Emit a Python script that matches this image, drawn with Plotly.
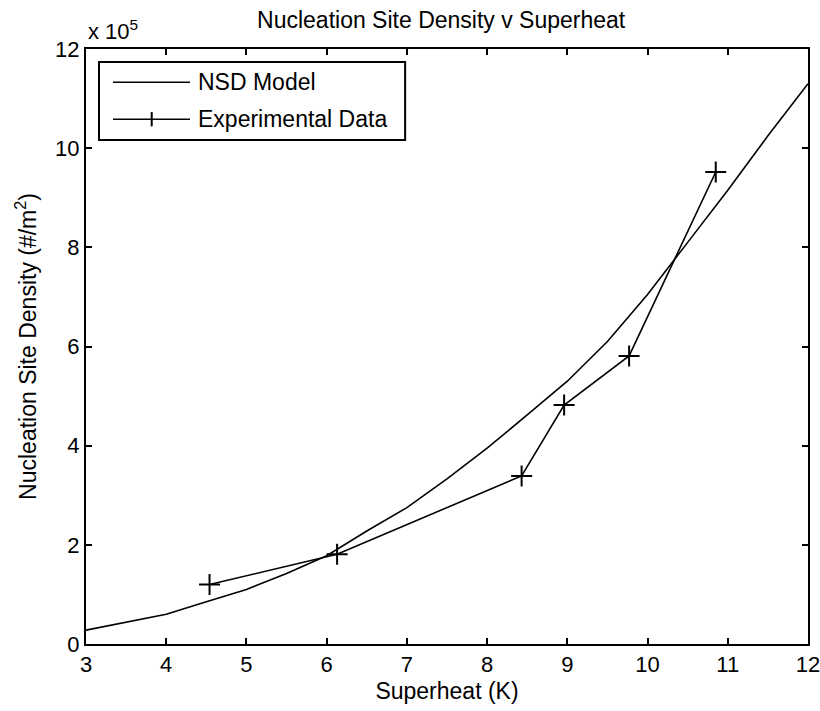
import plotly.graph_objects as go

# NSD model curve (Superheat K, Nucleation site density #/m^2)
model_x = [3.0, 3.5, 4.0, 4.5, 5.0, 5.5, 6.0, 6.5, 7.0, 7.5, 8.0, 8.5, 9.0, 9.5, 10.0, 10.5, 11.0, 11.5, 12.0]
model_y = [0.28e5, 0.44e5, 0.60e5, 0.85e5, 1.10e5, 1.42e5, 1.78e5, 2.28e5, 2.75e5, 3.33e5, 3.95e5, 4.62e5,
           5.30e5, 6.10e5, 7.05e5, 8.10e5, 9.15e5, 10.25e5, 11.30e5]

# Experimental data
exp_x = [4.54, 6.13, 8.43, 8.96, 9.77, 10.85]
exp_y = [1.20e5, 1.81e5, 3.39e5, 4.82e5, 5.81e5, 9.52e5]

series_names = ["NSD Model", "Experimental Data"]

x_ticks = [3, 4, 5, 6, 7, 8, 9, 10, 11, 12]
y_tick_vals = [0, 2e5, 4e5, 6e5, 8e5, 10e5, 12e5]
y_tick_text = ["0", "2", "4", "6", "8", "10", "12"]

FONT = "Liberation Sans, Arial, sans-serif"
TXT = 23

fig = go.Figure()
fig.add_trace(go.Scatter(x=model_x, y=model_y, mode="lines", name=series_names[0],
                         line=dict(color="black", width=1.6), showlegend=False))
fig.add_trace(go.Scatter(x=exp_x, y=exp_y, mode="lines+markers", name=series_names[1],
                         line=dict(color="black", width=1.6), showlegend=False,
                         marker=dict(symbol="cross-thin", size=15, line=dict(color="black", width=2))))

axis_common = dict(showgrid=False, zeroline=False, showline=True, linecolor="black", linewidth=2,
                   mirror="ticks", ticks="inside", ticklen=6, tickwidth=1.5, tickcolor="black",
                   automargin=False, ticklabeloverflow="allow",
                   tickfont=dict(family=FONT, size=22, color="black"))

fig.update_layout(
    width=820, height=711,
    margin=dict(l=86, r=12, t=49, b=67),
    paper_bgcolor="white", plot_bgcolor="white",
    font=dict(family=FONT, color="black"),
    title=dict(text="Nucleation Site Density v Superheat", x=0.538, xanchor="center",
               y=0.972, yanchor="middle", font=dict(family=FONT, size=TXT, color="black")),
    xaxis=dict(range=[3, 12], tickvals=x_ticks,
               title=dict(text="Superheat (K)", font=dict(family=FONT, size=TXT), standoff=6),
               **axis_common),
    yaxis=dict(range=[0, 12e5], tickvals=y_tick_vals, ticktext=y_tick_text,
               title=dict(text="Nucleation Site Density (#/m<sup>2</sup>)", font=dict(family=FONT, size=TXT),
                          standoff=12),
               **axis_common),
    showlegend=False,
)

# Custom MATLAB-style legend box (layout decoration, paper coordinates)
lx0, lx1, ly0, ly1 = 0.018, 0.442, 0.847, 0.978
fig.add_shape(type="rect", xref="paper", yref="paper", x0=lx0, x1=lx1, y0=ly0, y1=ly1,
              line=dict(color="black", width=2), fillcolor="white", layer="above")
row_y = [0.944, 0.882]
for i, name in enumerate(series_names):
    fig.add_shape(type="line", xref="paper", yref="paper", x0=0.0374, x1=0.144, y0=row_y[i], y1=row_y[i],
                  line=dict(color="black", width=1.6), layer="above")
    fig.add_annotation(text=name, xref="paper", yref="paper", x=0.152, y=row_y[i],
                       xanchor="left", yanchor="middle", showarrow=False,
                       font=dict(family=FONT, size=TXT, color="black"))
# cross marker in legend sample for experimental data
fig.add_shape(type="line", xref="paper", yref="paper", x0=0.091, x1=0.091,
              y0=row_y[1] - 0.012, y1=row_y[1] + 0.012, line=dict(color="black", width=2), layer="above")

fig.add_annotation(text="x 10<sup>5</sup>", xref="paper", yref="paper", x=0.0, y=1.0,
                   xanchor="left", yanchor="bottom", yshift=3, showarrow=False,
                   font=dict(family=FONT, size=22, color="black"))

fig.write_html("out.html")
